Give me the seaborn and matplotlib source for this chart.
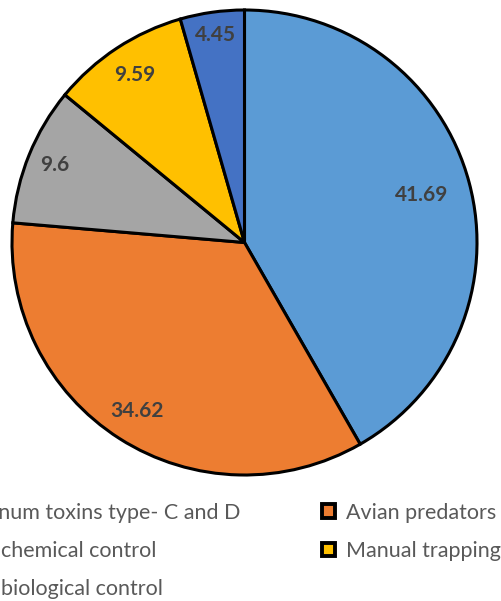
import matplotlib
matplotlib.use("Agg")
import matplotlib.pyplot as plt
import seaborn as sns
import numpy as np

categories = ["Botulinum toxins type- C and D", "Avian predators",
              "Using chemical control", "Manual trapping",
              "Using biological control"]
values = [41.69, 34.62, 9.6, 9.59, 4.45]
value_labels = ["41.69", "34.62", "9.6", "9.59", "4.45"]
colors = ["#5B9BD5", "#ED7D31", "#A5A5A5", "#FFC000", "#4472C4"]

sns.set_theme(style="white")
plt.rcParams['font.family'] = ['Lato', 'DejaVu Sans']

fig = plt.figure(figsize=(5.01, 6.01), dpi=100)
W, H = 501, 601
cx, cy, r = 244.5, 242.5, 232.5
ax = fig.add_axes([(cx - r) / W, (H - cy - r) / H, 2 * r / W, 2 * r / H])

wedges, texts = ax.pie(values, colors=colors, startangle=90, counterclock=False,
                       labels=value_labels, labeldistance=0.85,
                       wedgeprops=dict(edgecolor="black", linewidth=2.2),
                       textprops=dict(fontsize=15, fontweight="bold", color="#404040"))
dists = [0.79, 0.86, 0.88, 0.86, 0.9]
for w, t, d in zip(wedges, texts, dists):
    th = np.deg2rad((w.theta1 + w.theta2) / 2)
    t.set_position((d * np.cos(th), d * np.sin(th)))
    t.set_ha("center")
    t.set_va("center")
ax.set_xlim(-1, 1)
ax.set_ylim(-1, 1)
ax.set_aspect("auto")
ax.axis("off")

order = [0, 2, 4, 1, 3]
leg = fig.legend([wedges[i] for i in order], [categories[i] for i in order],
                 loc="upper right", bbox_to_anchor=(1.0, (H - 503) / H), ncol=2,
                 frameon=False, fontsize=15.5, handlelength=0.62, handleheight=0.62,
                 handletextpad=0.5, columnspacing=3.8, labelspacing=0.84,
                 borderpad=0, borderaxespad=0)
for t in leg.get_texts():
    t.set_color("#595959")
for h in leg.legend_handles:
    h.set_linewidth(2.8)

fig.savefig("out.png", dpi=100)
